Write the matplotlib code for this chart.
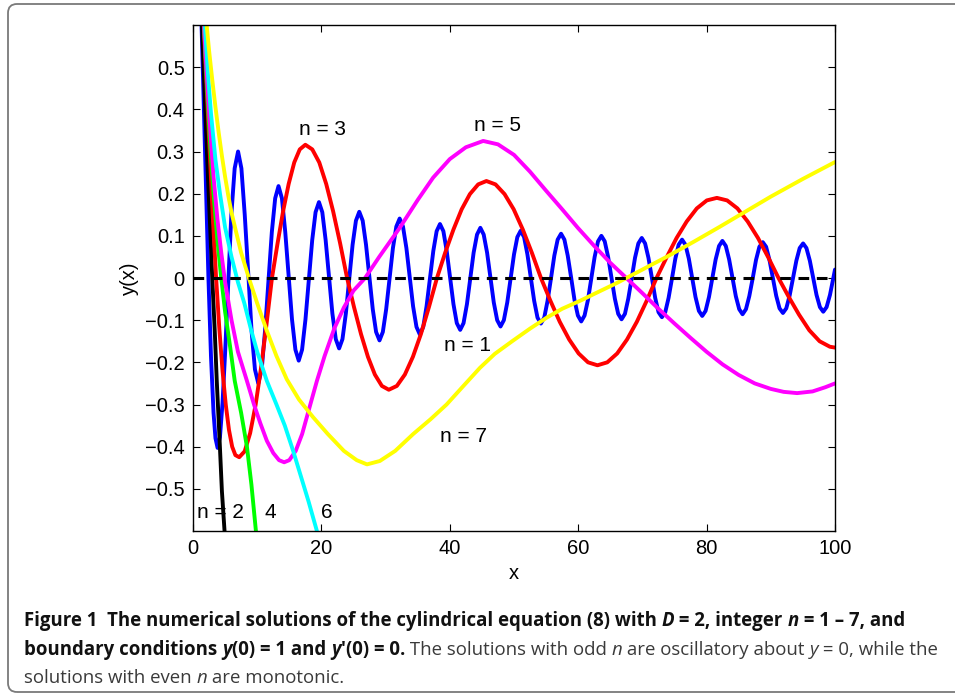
import matplotlib
matplotlib.use("Agg")
import matplotlib.pyplot as plt
from matplotlib.patches import FancyBboxPatch
from matplotlib.transforms import IdentityTransform

W, H = 955, 696

# n = 1 (oscillatory, blue)
blue_x = [0, 0.4, 0.8, 1.2, 1.6, 2.0, 2.405, 2.8, 3.2, 3.5, 3.83, 4.2, 4.6, 5.0, 5.52, 5.97, 6.49, 7.02,
          7.54, 8.06, 8.65,
          9.12, 9.65, 10.17, 10.70, 11.22, 11.79,
          12.28, 12.80, 13.32, 13.85, 14.37, 14.93,
          15.42, 15.95, 16.47, 16.99, 17.52, 18.07,
          18.57, 19.09, 19.62, 20.14, 20.66, 21.21,
          21.71, 22.24, 22.76, 23.28, 23.81, 24.35,
          24.86, 25.38, 25.90, 26.43, 26.95, 27.49,
          28.00, 28.52, 29.05, 29.57, 30.09, 30.63,
          31.14, 31.67, 32.19, 32.71, 33.24, 33.78,
          34.28, 34.81, 35.33, 35.86, 36.38, 36.92,
          37.43, 37.95, 38.47, 39.00, 39.52, 40.06,
          40.57, 41.09, 41.62, 42.14, 42.67, 43.20,
          43.71, 44.24, 44.76, 45.28, 45.81, 46.34,
          46.85, 47.38, 47.90, 48.42, 48.95, 49.49,
          50.00, 50.52, 51.04, 51.57, 52.09, 52.63,
          53.14, 53.66, 54.19, 54.71, 55.23, 55.77,
          56.28, 56.80, 57.33, 57.85, 58.37, 58.91,
          59.42, 59.95, 60.47, 60.99, 61.52, 62.05,
          62.56, 63.09, 63.61, 64.13, 64.66, 65.19,
          65.71, 66.23, 66.75, 67.28, 67.80, 68.34,
          68.85, 69.37, 69.90, 70.42, 70.94, 71.48,
          71.99, 72.51, 73.04, 73.56, 74.08, 74.62,
          75.13, 75.65, 76.18, 76.70, 77.23, 77.76,
          78.27, 78.80, 79.32, 79.84, 80.37, 80.90,
          81.41, 81.94, 82.46, 82.99, 83.51, 84.04,
          84.55, 85.08, 85.60, 86.13, 86.65, 87.19,
          87.70, 88.22, 88.75, 89.27, 89.79, 90.33,
          90.84, 91.36, 91.89, 92.41, 92.93, 93.47,
          93.98, 94.50, 95.03, 95.55, 96.08, 96.61,
          97.12, 97.65, 98.17, 98.69, 99.22, 99.75, 100.0]
blue_y = [1.0, 0.960, 0.846, 0.671, 0.455, 0.224, 0.0, -0.185, -0.320, -0.380, -0.403, -0.377, -0.296, -0.178, 0.0, 0.150, 0.260, 0.300,
          0.260, 0.150, 0.0,
          -0.125, -0.217, -0.250, -0.217, -0.125, 0.0,
          0.109, 0.189, 0.218, 0.189, 0.109, 0.0,
          -0.098, -0.170, -0.196, -0.170, -0.098, 0.0,
          0.090, 0.156, 0.180, 0.156, 0.090, 0.0,
          -0.084, -0.145, -0.167, -0.145, -0.084, 0.0,
          0.079, 0.136, 0.157, 0.136, 0.079, 0.0,
          -0.074, -0.128, -0.148, -0.128, -0.074, 0.0,
          0.071, 0.122, 0.141, 0.122, 0.071, 0.0,
          -0.067, -0.116, -0.134, -0.116, -0.067, 0.0,
          0.064, 0.111, 0.128, 0.111, 0.064, 0.0,
          -0.062, -0.107, -0.123, -0.107, -0.062, 0.0,
          0.060, 0.103, 0.119, 0.103, 0.060, 0.0,
          -0.058, -0.100, -0.115, -0.100, -0.058, 0.0,
          0.056, 0.097, 0.112, 0.097, 0.056, 0.0,
          -0.054, -0.094, -0.108, -0.094, -0.054, 0.0,
          0.053, 0.091, 0.105, 0.091, 0.053, 0.0,
          -0.052, -0.089, -0.103, -0.089, -0.052, 0.0,
          0.050, 0.087, 0.100, 0.087, 0.050, 0.0,
          -0.049, -0.085, -0.098, -0.085, -0.049, 0.0,
          0.048, 0.082, 0.095, 0.082, 0.048, 0.0,
          -0.047, -0.081, -0.093, -0.081, -0.047, 0.0,
          0.046, 0.079, 0.091, 0.079, 0.046, 0.0,
          -0.045, -0.078, -0.090, -0.078, -0.045, 0.0,
          0.044, 0.076, 0.088, 0.076, 0.044, 0.0,
          -0.043, -0.074, -0.086, -0.074, -0.043, 0.0,
          0.043, 0.074, 0.085, 0.074, 0.043, 0.0,
          -0.042, -0.072, -0.083, -0.072, -0.042, 0.0,
          0.041, 0.071, 0.082, 0.071, 0.041, 0.0,
          -0.040, -0.069, -0.080, -0.069, -0.040, 0.0, 0.020]

# n = 2 (black)
black_x = [0, 0.7, 1.1, 1.5, 1.9, 2.3, 2.7, 3.0, 3.4, 3.7, 4.1, 4.5, 5.0]
black_y = [1.0, 0.88, 0.73, 0.56, 0.40, 0.25, 0.11, 0.0, -0.13, -0.244, -0.37, -0.505, -0.62]

# n = 3 (red)
red_x = [0, 0.6, 1.1, 1.6, 2.1, 2.6, 3.1, 3.6, 4.1, 4.6, 5.1, 5.6, 6.1, 6.6,
         7.2, 8.05, 8.9, 9.75, 10.6, 11.45, 12.3,
         13.17, 14.03, 14.9, 15.77, 16.63, 17.5,
         18.58, 19.67, 20.75, 21.83, 22.92, 24.0,
         25.08, 26.17, 27.25, 28.33, 29.42, 30.5,
         31.75, 33.0, 34.25, 35.5, 36.75, 38.0,
         39.28, 40.57, 41.85, 43.13, 44.42, 45.7,
         47.12, 48.53, 49.95, 51.37, 52.78, 54.2,
         55.67, 57.13, 58.6, 60.07, 61.53, 63.0,
         64.53, 66.07, 67.6, 69.13, 70.67, 72.2,
         73.77, 75.33, 76.9, 78.47, 80.03, 81.6,
         83.2, 84.8, 86.4, 88.0, 89.6, 91.2,
         92.8, 94.4, 96.0, 97.6, 99.2, 100.0]
red_y = [1.0, 0.92, 0.78, 0.62, 0.46, 0.30, 0.14, 0.0, -0.12, -0.22, -0.30, -0.36, -0.40, -0.42,
         -0.425, -0.411, -0.368, -0.301, -0.213, -0.110, 0.0,
         0.082, 0.158, 0.223, 0.274, 0.305, 0.316,
         0.305, 0.274, 0.223, 0.158, 0.082, 0.0,
         -0.069, -0.133, -0.187, -0.229, -0.256, -0.265,
         -0.256, -0.229, -0.187, -0.133, -0.069, 0.0,
         0.060, 0.115, 0.163, 0.199, 0.222, 0.230,
         0.222, 0.199, 0.163, 0.115, 0.060, 0.0,
         -0.054, -0.104, -0.146, -0.179, -0.200, -0.207,
         -0.200, -0.179, -0.146, -0.104, -0.054, 0.0,
         0.049, 0.095, 0.134, 0.165, 0.184, 0.190,
         0.184, 0.165, 0.134, 0.095, 0.049, 0.0,
         -0.045, -0.087, -0.124, -0.150, -0.163, -0.165]

# n = 4 (green)
green_x = [0, 0.8, 1.3, 1.7, 2.2, 2.7, 3.2, 3.8, 4.4, 5.0, 5.8, 6.5, 7.5, 8.4, 9.1, 9.8]
green_y = [1.0, 0.86, 0.72, 0.60, 0.45, 0.31, 0.20, 0.09, 0.0, -0.08, -0.165, -0.244, -0.32, -0.40, -0.49, -0.60]

# n = 5 (magenta)
mag_x = [0, 0.8, 1.4, 2.0, 2.6, 3.2, 3.8, 4.4, 5.0, 6.0, 7.0, 8.4, 9.5, 10.5, 11.5, 12.5, 13.4, 14.2,
         15.0, 16.0, 17.0, 18.0, 19.3, 20.5, 22.0, 23.5, 25.0, 26.8, 29.0, 32.2, 35.0, 37.4, 40.0,
         42.5, 45.2, 47.5, 50.0, 52.5, 55.0, 57.5, 60.0, 62.5, 65.0, 67.5, 70.0, 72.5, 75.0, 77.5,
         80.0, 82.5, 85.0, 87.5, 90.0, 92.0, 94.1, 96.5, 98.5, 100.0]
mag_y = [1.0, 0.87, 0.69, 0.52, 0.37, 0.24, 0.14, 0.06, -0.01, -0.10, -0.175, -0.244, -0.30, -0.345, -0.386, -0.415, -0.432, -0.437,
         -0.432, -0.41, -0.37, -0.315, -0.244, -0.185, -0.12, -0.07, -0.03, 0.0, 0.05, 0.119, 0.185, 0.238, 0.282,
         0.31, 0.325, 0.317, 0.292, 0.252, 0.207, 0.163, 0.118, 0.076, 0.036, 0.0, -0.036, -0.073, -0.108, -0.142,
         -0.175, -0.205, -0.230, -0.250, -0.263, -0.270, -0.273, -0.269, -0.259, -0.25]

# n = 6 (cyan)
cyan_x = [0, 0.8, 1.3, 1.8, 2.3, 2.8, 3.5, 4.2, 5.0, 6.0, 7.0, 8.0, 9.0, 10.0, 11.5, 13.0, 14.3, 15.6, 16.8, 18.0, 19.3]
cyan_y = [1.0, 0.87, 0.74, 0.61, 0.49, 0.39, 0.28, 0.20, 0.12, 0.05, -0.01, -0.06, -0.12, -0.175, -0.244, -0.30, -0.35, -0.41, -0.47, -0.53, -0.60]

# n = 7 (yellow)
yel_x = [0, 1.0, 1.5, 2.0, 2.5, 3.0, 3.5, 4.0, 4.5, 5.0, 5.5, 6.0, 6.7, 7.5, 8.7, 10.0, 11.5, 13.0, 14.6, 16.5,
         18.7, 21.0, 23.5, 25.5, 27.1, 29.1, 31.5, 34.3, 37.0, 39.5, 42.0, 44.7, 47.0, 49.8, 52.5, 55.1,
         57.5, 60.3, 63.0, 66.0, 67.5, 70.0, 74.0, 78.0, 82.0, 86.0, 90.0, 95.0, 100.0]
yel_y = [1.0, 0.84, 0.72, 0.62, 0.54, 0.47, 0.405, 0.345, 0.29, 0.24, 0.195, 0.155, 0.11, 0.06, 0.0, -0.06, -0.125, -0.185, -0.24, -0.288,
         -0.33, -0.37, -0.41, -0.432, -0.442, -0.434, -0.41, -0.37, -0.335, -0.30, -0.258, -0.213, -0.18, -0.149, -0.12, -0.094,
         -0.073, -0.054, -0.034, -0.012, 0.0, 0.02, 0.052, 0.086, 0.121, 0.157, 0.193, 0.235, 0.275]

y_ticks = [-0.5, -0.4, -0.3, -0.2, -0.1, 0, 0.1, 0.2, 0.3, 0.4, 0.5]
y_ticklabels = ["\u22120.5", "\u22120.4", "\u22120.3", "\u22120.2", "\u22120.1", "0",
                "0.1", "0.2", "0.3", "0.4", "0.5"]
x_ticks = [0, 20, 40, 60, 80, 100]

labels = [("n = 3", 20.1, 0.353), ("n = 5", 47.4, 0.362), ("n = 1", 42.8, -0.159),
          ("n = 7", 42.1, -0.377), ("n = 2", 4.3, -0.556), ("4", 12.0, -0.556), ("6", 20.9, -0.556)]

AX_FONT = ["Liberation Sans", "DejaVu Sans"]
CAP_FONT = ["Open Sans", "DejaVu Sans"]

fig = plt.figure(figsize=(W / 100, H / 100), dpi=100)

# caption frame (rounded, open to the right)
frame = FancyBboxPatch((8, 4), 1100, 688, boxstyle="round,pad=0,rounding_size=9",
                       transform=IdentityTransform(), fill=False, edgecolor="#7a7a7a",
                       linewidth=1.3)
fig.add_artist(frame)

ax = fig.add_axes([193 / W, (H - 531) / H, (835 - 193) / W, (531 - 25) / H])
lw = 2.8
series = [(blue_x, blue_y, "#0000ff"), (black_x, black_y, "#000000"),
          (red_x, red_y, "#ff0000"), (green_x, green_y, "#00ff00"),
          (mag_x, mag_y, "#ff00ff"), (cyan_x, cyan_y, "#00ffff"),
          (yel_x, yel_y, "#ffff00")]
for xs, ys, col in series:
    ax.plot(xs, ys, color=col, lw=lw, solid_joinstyle="round", solid_capstyle="round")
ax.axhline(0, color="black", lw=2.2, linestyle=(0, (3.5, 2.5)))

ax.set_xlim(0, 100)
ax.set_ylim(-0.6, 0.6)
ax.set_xticks(x_ticks)
ax.set_xticklabels([str(v) for v in x_ticks])
ax.set_yticks(y_ticks)
ax.set_yticklabels(y_ticklabels)
ax.tick_params(direction="in", length=5, width=0.8, top=True, right=True,
               labelsize=14.5, pad=6)
for lab in ax.get_xticklabels() + ax.get_yticklabels():
    lab.set_family(AX_FONT)
for sp in ax.spines.values():
    sp.set_linewidth(1.0)
ax.set_xlabel("x", fontsize=14.5, family=AX_FONT, labelpad=4)
ax.set_ylabel("y(x)", fontsize=14.5, family=AX_FONT, labelpad=4)

for txt, tx, ty in labels:
    ax.text(tx, ty, txt, fontsize=15, family=AX_FONT, ha="center", va="center")

# caption with mixed bold / italic runs
line1 = [("Figure 1  The numerical solutions of the cylindrical equation (8) with ", "b"), ("D", "bi"),
         (" = 2, integer ", "b"), ("n", "bi"), (" = 1 \u2013 7, and", "b")]
line2 = [("boundary conditions ", "b"), ("y", "bi"), ("(0) = 1 and ", "b"), ("y", "bi"),
         ("\u2032(0) = 0.", "b"), (" The solutions with odd ", "r"), ("n", "i"),
         (" are oscillatory about ", "r"), ("y", "i"), (" = 0, while the", "r")]
line3 = [("solutions with even ", "r"), ("n", "i"), (" are monotonic.", "r")]

renderer = fig.canvas.get_renderer()


def props(style, size):
    return dict(fontsize=size, family=CAP_FONT,
                weight="bold" if "b" in style else "normal",
                style="italic" if "i" in style else "normal",
                color="#111111" if "b" in style else "#3a3a3a")


def run_width(txt, style, size):
    p = props(style, size)
    t1 = fig.text(0, 0, "|" + txt + "|", **p)
    t2 = fig.text(0, 0, "||", **p)
    w = t1.get_window_extent(renderer).width - t2.get_window_extent(renderer).width
    t1.remove()
    t2.remove()
    return w


def line_width(runs, size):
    return sum(run_width(t, s, size) for t, s in runs)


def draw_line(runs, x0, base_y, size):
    x = x0
    for txt, style in runs:
        fig.text(x / W, (H - base_y) / H, txt, va="baseline", ha="left", **props(style, size))
        x += run_width(txt, style, size)


s0 = 13.0
size1 = s0 * (898 - 24) / line_width(line1, s0)
size2 = min(size1, s0 * (937 - 24) / line_width(line2, s0))

draw_line(line1, 24, 626, size1)
draw_line(line2, 24, 655, size2)
draw_line(line3, 24, 683, size2)

fig.savefig("out.png", dpi=100)
